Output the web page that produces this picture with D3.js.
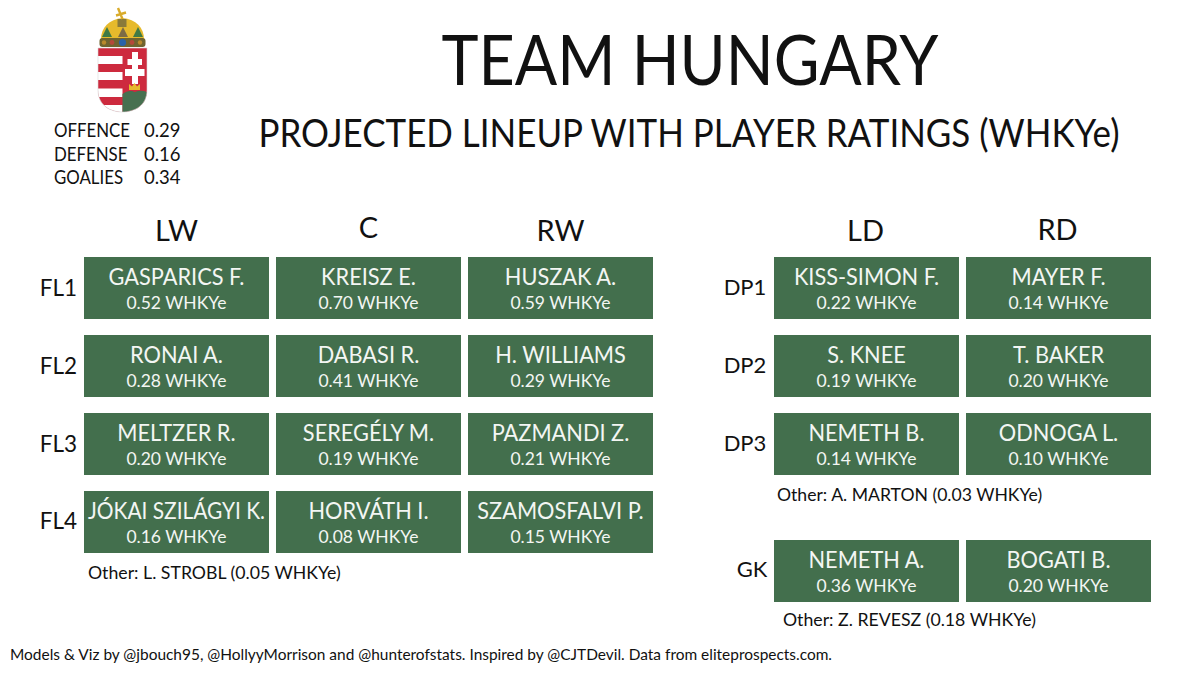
<!DOCTYPE html>
<html>
<head>
<meta charset="utf-8">
<script src="https://cdn.jsdelivr.net/npm/d3@7"></script>
<style>
  html, body { margin: 0; padding: 0; background: #fff; }
  text { font-family: Lato, "Noto Sans", sans-serif; fill: #111; }
</style>
</head>
<body>
<div id="chart"></div>
<script>
// Lineup data
var forwardCols = ["LW", "C", "RW"];
var forwardRows = ["FL1", "FL2", "FL3", "FL4"];
var forwardNames = [
  ["GASPARICS F.", "KREISZ E.", "HUSZAK A."],
  ["RONAI A.", "DABASI R.", "H. WILLIAMS"],
  ["MELTZER R.", "SEREGÉLY M.", "PAZMANDI Z."],
  ["JÓKAI SZILÁGYI K.", "HORVÁTH I.", "SZAMOSFALVI P."]
];
var forwardRatings = [
  [0.52, 0.70, 0.59],
  [0.28, 0.41, 0.29],
  [0.20, 0.19, 0.21],
  [0.16, 0.08, 0.15]
];
var defenseCols = ["LD", "RD"];
var defenseRows = ["DP1", "DP2", "DP3"];
var defenseNames = [
  ["KISS-SIMON F.", "MAYER F."],
  ["S. KNEE", "T. BAKER"],
  ["NEMETH B.", "ODNOGA L."]
];
var defenseRatings = [
  [0.22, 0.14],
  [0.19, 0.20],
  [0.14, 0.10]
];
var goalieNames = ["NEMETH A.", "BOGATI B."];
var goalieRatings = [0.36, 0.20];
var summaryLabels = ["OFFENCE", "DEFENSE", "GOALIES"];
var summaryValues = [0.29, 0.16, 0.34];

var svgWidth = 1200;
var svgHeight = 676;
var green = "#436f4d";

var svg = d3.select("#chart").append("svg")
  .attr("width", svgWidth).attr("height", svgHeight)
  .style("display", "block");

// width = target pixel width, text gets squeezed to it (reference font is narrower)
function label(x, y, str, size, anchor, width, color) {
  var t = svg.append("text")
    .attr("x", x).attr("y", y)
    .attr("text-anchor", anchor || "middle")
    .attr("font-size", size)
    .text(str);
  if (width) t.attr("textLength", width).attr("lengthAdjust", "spacingAndGlyphs");
  if (color) t.style("fill", color);
  return t;
}

function squeeze(sel, ratio, maxW) {
  var w = sel.node().getComputedTextLength() * ratio;
  if (maxW && w > maxW) w = maxW;
  sel.attr("textLength", w).attr("lengthAdjust", "spacingAndGlyphs");
}

// Scales
var xForward = d3.scaleBand().domain(forwardCols).range([80.5, 656.5]).paddingInner(7 / 192).paddingOuter(3.5 / 192);
var yForward = d3.scaleBand().domain(forwardRows).range([249, 561]).paddingInner(16 / 78).paddingOuter(8 / 78);
var xDefense = d3.scaleBand().domain(defenseCols).range([770.5, 1154.5]).paddingInner(7 / 192).paddingOuter(3.5 / 192);
var yDefense = d3.scaleOrdinal().domain(defenseRows.concat(["GK"])).range([257, 335, 413, 540]);
var boxH = 62;

function drawBox(x, y, w, h, name, rating) {
  svg.append("rect").attr("x", x).attr("y", y).attr("width", w).attr("height", h).attr("fill", green);
  var n = label(x + w / 2, y + 28, name, 23, "middle", null, "#f3f6f3");
  squeeze(n, 0.945, 177);
  label(x + w / 2, y + 52, d3.format(".2f")(rating) + " WHKYe", 17.5, "middle", null, "#f3f6f3");
}

// Forward lines
forwardRows.forEach(function(row, i) {
  label(77, yForward(row) + 39 - (i == 3 ? 1 : 0), row, 22.5, "end");
  forwardCols.forEach(function(col, j) {
    drawBox(xForward(col), yForward(row), xForward.bandwidth(), yForward.bandwidth(), forwardNames[i][j], forwardRatings[i][j]);
  });
});
var colY = {LW: 241, C: 238, RW: 241, LD: 241, RD: 240};
forwardCols.forEach(function(col) {
  label(xForward(col) + xForward.bandwidth() / 2, colY[col], col, 29);
});

// Defense pairs
defenseRows.forEach(function(row, i) {
  label(745, yDefense(row) + 38, row, 22);
  defenseCols.forEach(function(col, j) {
    drawBox(xDefense(col), yDefense(row), xDefense.bandwidth(), boxH, defenseNames[i][j], defenseRatings[i][j]);
  });
});
defenseCols.forEach(function(col) {
  label(xDefense(col) + xDefense.bandwidth() / 2 - 1, colY[col], col, 29);
});

// Goalies
label(752, yDefense("GK") + 37, "GK", 22);
defenseCols.forEach(function(col, j) {
  drawBox(xDefense(col), yDefense("GK"), xDefense.bandwidth(), boxH, goalieNames[j], goalieRatings[j]);
});

// Others
label(88, 579, "Other: L. STROBL (0.05 WHKYe)", 17.7, "start");
label(777, 501, "Other: A. MARTON (0.03 WHKYe)", 17.6, "start");
label(783, 626, "Other: Z. REVESZ (0.18 WHKYe)", 17.7, "start");

// Titles
label(690, 85, "TEAM HUNGARY", 70, "middle", 497);
label(689, 147, "PROJECTED LINEUP WITH PLAYER RATINGS (WHKYe)", 38, "middle", 861);

// Team summary
summaryLabels.forEach(function(d, i) {
  squeeze(label(54, 137 + i * 23.5, d, 18.5, "start"), 0.91);
  label(144, 137 + i * 23.5, d3.format(".2f")(summaryValues[i]), 18.5, "start");
});

// Footer
label(10, 660, "Models & Viz by @jbouch95, @HollyyMorrison and @hunterofstats. Inspired by @CJTDevil. Data from eliteprospects.com.", 15, "start", 822);

// Crest
var red = "#cd2a3e", gold = "#e6ba2c";
var crest = svg.append("g");
var shield = "M98,48 H147 V90 C147,106 134,112 122.5,112 C111,112 98,106 98,90 Z";
svg.append("defs").append("clipPath").attr("id", "shield").append("path").attr("d", shield);
var body = crest.append("g").attr("clip-path", "url(#shield)");
body.append("rect").attr("x", 98).attr("y", 48).attr("width", 49).attr("height", 64).attr("fill", red);
[[56, 8], [72, 8], [88.5, 8.5], [105, 8]].forEach(function(s) {
  body.append("rect").attr("x", 98).attr("y", s[0]).attr("width", 24.5).attr("height", s[1]).attr("fill", "#fff");
});
body.append("path").attr("fill", "#477050")
  .attr("d", "M122.5,113 V94 C127,90 132,90.5 135,92 C139,90 143,90.5 147,92 V113 Z");
crest.append("path").attr("d", shield).attr("fill", "none").attr("stroke", "#d8d8d8").attr("stroke-width", 0.6);
// double cross
crest.append("path").attr("fill", "#fff")
  .attr("d", "M132,52 H138 V59 H142 V65 H138 V69 H144.5 V76 H138 V84 H132 V76 H125 V69 H132 V65 H127.5 V59 H132 Z");
// small crown over the green
crest.append("path").attr("fill", gold).attr("d", "M129,90 L129,84 L132,86.5 L134.5,83 L137,86.5 L140,84 L140,90 Z");
// holy crown
crest.append("path").attr("fill", gold).attr("d", "M101,39 C101,28 109,19 122.5,18 C136,19 144,28 144,39 Z");
crest.append("rect").attr("x", 99.5).attr("y", 38).attr("width", 46).attr("height", 9).attr("rx", 3).attr("fill", "#6f6430");
[[104, "#b98a2c", 2.2], [112, "#b5483a", 2.4], [122.5, "#2a62a8", 3.6], [132, "#b5483a", 2.4], [140, "#b98a2c", 2.2]].forEach(function(j) {
  crest.append("circle").attr("cx", j[0]).attr("cy", 42.5).attr("r", j[2]).attr("fill", j[1]);
});
[107, 123, 138].forEach(function(x) {
  crest.append("path").attr("fill", x == 123 ? "#7c6b45" : "#3f7a45")
    .attr("d", "M" + (x - 5) + ",37 L" + x + ",27 L" + (x + 5) + ",37 Z");
});
crest.append("rect").attr("x", 117.5).attr("y", 19).attr("width", 9).attr("height", 8).attr("fill", "#8a7a3a");
// leaning cross
crest.append("path").attr("stroke", "#d9ab2a").attr("stroke-width", 2.4).attr("fill", "none")
  .attr("d", "M118,8 L122.5,19 M116,15.5 L126,12.5");
</script>
</body>
</html>
